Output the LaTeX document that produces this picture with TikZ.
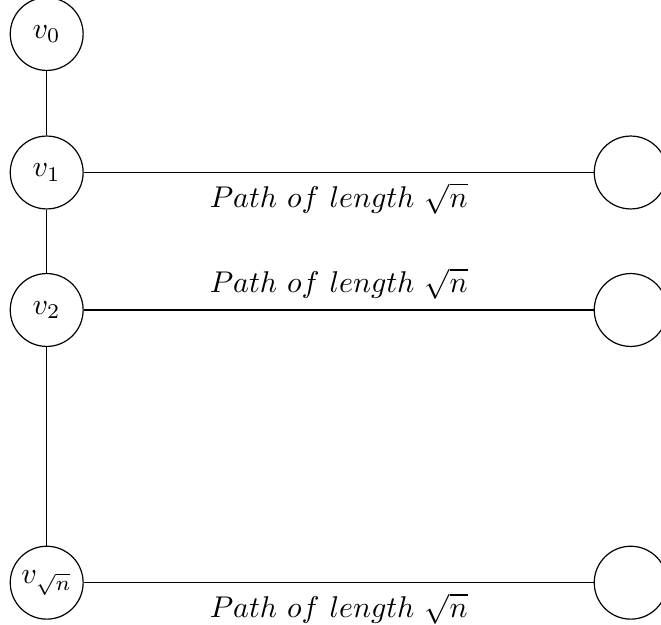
\documentclass[tikz,border=0pt]{standalone}
\usetikzlibrary{positioning}
\begin{document}
\begin{tikzpicture}[x={(0.33333pt,0)},y={(0,-0.33333pt)},
  vert/.style={circle,draw,minimum size=24.3pt,inner sep=0pt},
  conn/.style={draw,line width=0.4pt}]
\useasboundingbox (0,0) rectangle (661,625);
\clip (0,0) rectangle (661,625);
\node[vert] (v0) at (46.7,34) {$v_0$};
\node[vert] (v1) at (46.7,172.5) {$v_1$};
\node[vert] (v2) at (46.7,310) {$v_2$};
\node[vert] (vs) at (46.7,582.7) {$v_{\sqrt{n}}$};
\node[vert] (r1) at (630.7,172.5) {};
\node[vert] (r2) at (630.7,310) {};
\node[vert] (r3) at (630.7,582.7) {};
\draw[conn] (v0) -- (v1);
\draw[conn] (v1) -- (v2);
\draw[conn] (v2) -- (vs);
\draw[conn] (v1) -- node[midway,below] {$Path\ of\ length\ \sqrt{n}$} (r1);
\draw[conn] (v2) -- node[midway,above] {$Path\ of\ length\ \sqrt{n}$} (r2);
\draw[conn] (vs) -- node[midway,below] {$Path\ of\ length\ \sqrt{n}$} (r3);
\end{tikzpicture}
\end{document}
